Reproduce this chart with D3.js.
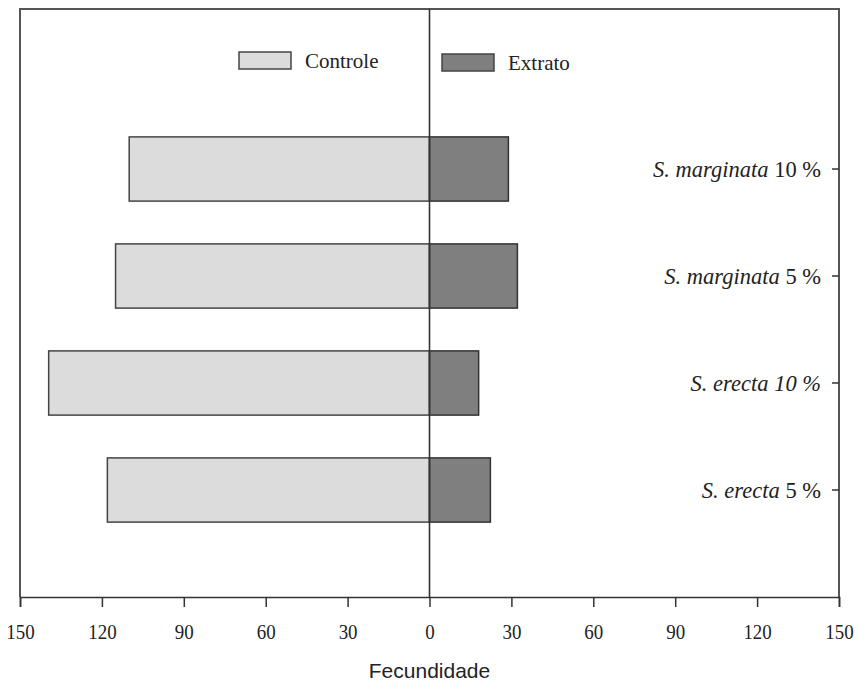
<!DOCTYPE html>
<html><head><meta charset="utf-8">
<script src="https://cdn.jsdelivr.net/npm/d3@7"></script>
<style>body{margin:0;background:#fff}</style>
</head><body>
<svg id="c" width="859" height="685"></svg>
<script>
const categories = ["S. marginata 10%", "S. marginata 5%", "S. erecta 10%", "S. erecta 5%"];
const labelSpecies = ["S. marginata", "S. marginata", "S. erecta", "S. erecta"];
const labelDose = ["10%", "5%", "10%", "5%"];
const doseItalic = [false, false, true, false];
const controle = [110, 115, 139.5, 118];
const extrato = [28.9, 32.2, 18, 22.3];
const tickValues = [-150, -120, -90, -60, -30, 0, 30, 60, 90, 120, 150];
const seriesNames = ["Controle", "Extrato"];
const colors = {Controle: "#dcdcdc", Extrato: "#7f7f7f"};

const svg = d3.select("#c");
const L = 20, R = 839, T = 9, B = 597;
const x = d3.scaleLinear().domain([-150, 150]).range([L, R]);
const y = d3.scaleBand().domain(categories).range([115.5, 543.5]).paddingInner(0.4).paddingOuter(0.2);

// frame
svg.append("path").attr("d", `M${L},${B}V${T}H${R}V${B}`).attr("fill", "none").attr("stroke", "#555").attr("stroke-width", 2);

// bars
categories.forEach((c, i) => {
  svg.append("rect").attr("x", x(-controle[i])).attr("y", y(c)).attr("width", x(0) - x(-controle[i])).attr("height", y.bandwidth())
    .attr("fill", colors.Controle).attr("stroke", "#444").attr("stroke-width", 1.5);
  svg.append("rect").attr("x", x(0)).attr("y", y(c)).attr("width", x(extrato[i]) - x(0)).attr("height", y.bandwidth())
    .attr("fill", colors.Extrato).attr("stroke", "#333").attr("stroke-width", 1.5);
});

// zero line
svg.append("line").attr("x1", x(0)).attr("x2", x(0)).attr("y1", T).attr("y2", B).attr("stroke", "#333").attr("stroke-width", 1.6);

// x axis
const xa = svg.append("g").attr("transform", `translate(0,${B})`)
  .call(d3.axisBottom(x).tickValues(tickValues).tickFormat(d => Math.abs(d)).tickSize(10).tickPadding(16));
xa.select(".domain").attr("stroke", "#333").attr("stroke-width", 1.6);
xa.selectAll(".tick line").attr("stroke", "#333").attr("stroke-width", 1.5);
xa.selectAll(".tick text").attr("font-family", "Liberation Serif, serif").attr("font-size", 22).attr("fill", "#222")
  .attr("transform", "scale(0.86,1)");

svg.append("text").attr("x", x(0)).attr("y", 678).attr("text-anchor", "middle")
  .attr("font-family", "Liberation Sans, Arial, sans-serif").attr("font-size", 21).attr("fill", "#222").text("Fecundidade");

// right-side category ticks and labels
categories.forEach((c, i) => {
  const cy = y(c) + y.bandwidth() / 2;
  svg.append("line").attr("x1", R - 7).attr("x2", R).attr("y1", cy).attr("y2", cy).attr("stroke", "#333").attr("stroke-width", 1.5);
  const t = svg.append("text").attr("x", 821).attr("y", cy + 8).attr("text-anchor", "end")
    .attr("font-family", "Liberation Serif, serif").attr("font-size", 22.5).attr("fill", "#222");
  t.append("tspan").attr("font-style", "italic").text(labelSpecies[i] + " ");
  t.append("tspan").attr("font-style", doseItalic[i] ? "italic" : "normal").text(labelDose[i].replace("%", " %"));
});

// legend
const leg = [{n: seriesNames[0], bx: 239, by: 52}, {n: seriesNames[1], bx: 442, by: 54}];
leg.forEach(l => {
  svg.append("rect").attr("x", l.bx).attr("y", l.by).attr("width", 52).attr("height", 17)
    .attr("fill", colors[l.n]).attr("stroke", "#444").attr("stroke-width", 1.5);
  svg.append("text").attr("x", l.bx + 66).attr("y", l.by + 16).attr("font-family", "Liberation Serif, serif")
    .attr("font-size", 21).attr("fill", "#222").text(l.n);
});
</script>
</body></html>
